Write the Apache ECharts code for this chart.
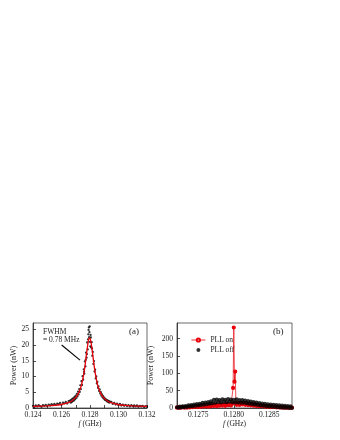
<!DOCTYPE html>
<html>
<head>
<meta charset="utf-8">
<script src="https://cdn.jsdelivr.net/npm/echarts@6/dist/echarts.min.js"></script>
<style>
  html, body { margin: 0; padding: 0; background: #fff; }
  #chart { width: 340px; height: 440px; }
</style>
</head>
<body>
<div id="chart"></div>
<script>
// panel (a): measured spectrum (black dots) and Lorentzian fit (red line)
var freqA = [
  0.1240, 0.1241, 0.1242, 0.1243, 0.1244, 0.1245, 0.1246, 0.1247, 0.1248, 0.1249,
  0.1250, 0.1251, 0.1252, 0.1253, 0.1254, 0.1255, 0.1256, 0.1257, 0.1258, 0.1259,
  0.1260, 0.1261, 0.1262, 0.1263, 0.1264, 0.1265,
  0.12660, 0.12664, 0.12668, 0.12672, 0.12676, 0.12680, 0.12684, 0.12688, 0.12692, 0.12696,
  0.12700, 0.12704, 0.12708, 0.12712, 0.12716, 0.12720, 0.12724, 0.12728, 0.12732, 0.12736,
  0.12740, 0.12744, 0.12748, 0.12752, 0.12756, 0.12760, 0.12764, 0.12768, 0.12772, 0.12776,
  0.12780, 0.12784, 0.12788, 0.12792, 0.12796, 0.12800, 0.12804, 0.12808, 0.12812, 0.12816,
  0.12820, 0.12824, 0.12828, 0.12832, 0.12836, 0.12840, 0.12844, 0.12848, 0.12852, 0.12856,
  0.12860, 0.12864, 0.12868, 0.12872, 0.12876, 0.12880, 0.12884, 0.12888, 0.12892, 0.12896,
  0.12900, 0.12904, 0.12908, 0.12912, 0.12916, 0.12920, 0.12924, 0.12928, 0.12932, 0.12936,
  0.12940,
  0.1295, 0.1296, 0.1297, 0.1298, 0.1299, 0.1300, 0.1301, 0.1302, 0.1303, 0.1304,
  0.1305, 0.1306, 0.1307, 0.1308, 0.1309, 0.1310, 0.1311, 0.1312, 0.1313, 0.1314,
  0.1315, 0.1316, 0.1317, 0.1318, 0.1319, 0.1320,
  // second sweep, a few points around the peak
  0.12758, 0.12770, 0.12778, 0.12786, 0.12790, 0.12794, 0.12798, 0.12802, 0.12806, 0.12814
];
var powerA = [
  0.7, 0.4, 0.8, 0.5, 0.9, 0.6, 0.4, 0.9, 0.7, 1.0,
  0.6, 1.1, 0.8, 1.2, 0.9, 1.3, 1.0, 1.4, 1.2, 1.6,
  1.0, 1.7, 1.5, 1.9, 1.4, 2.2,
  2.3, 1.7, 2.6, 1.9, 2.9, 2.2, 3.1, 2.4, 3.5, 2.8,
  3.9, 3.2, 4.5, 3.7, 5.2, 4.3, 6.0, 5.1, 7.2, 6.0,
  8.5, 7.3, 10.1, 9.0, 12.3, 10.9, 14.8, 13.2, 17.6, 16.0,
  20.8, 18.6, 23.4, 25.6, 24.1, 21.0, 23.2, 19.3, 20.9, 16.6,
  17.8, 14.0, 14.9, 11.6, 12.2, 9.4, 10.0, 7.8, 8.3, 6.4,
  6.9, 5.4, 5.9, 4.6, 5.0, 3.9, 4.3, 3.4, 3.8, 3.0,
  3.3, 2.6, 2.9, 2.4, 2.6, 2.1, 2.4, 1.9, 2.2, 1.7,
  2.0,
  1.9, 1.3, 1.6, 1.1, 1.4, 0.9, 1.3, 0.8, 1.1, 0.7,
  1.0, 0.6, 0.9, 0.5, 0.9, 0.6, 0.8, 0.5, 0.8, 0.4,
  0.7, 0.5, 0.7, 0.3, 0.6, 0.4,
  11.5, 15.3, 17.1, 21.8, 24.8, 22.5, 25.9, 19.6, 22.4, 18.9
];
var fitFreqA = [
  0.1240, 0.12497, 0.12547, 0.12597, 0.12647, 0.12672, 0.12697, 0.12717, 0.12737, 0.12747,
  0.12757, 0.12767, 0.12777, 0.12787, 0.12792, 0.12797, 0.12802, 0.12807, 0.12817, 0.12827,
  0.12837, 0.12847, 0.12857, 0.12877, 0.12897, 0.12922, 0.12947, 0.12997, 0.13047, 0.13097,
  0.1320
];
var fitPowerA = [
  0.51, 0.67, 0.82, 1.11, 1.69, 2.25, 3.2, 4.5, 6.8, 8.6,
  11.0, 14.1, 17.7, 20.9, 21.95, 22.3, 21.95, 20.9, 17.7, 14.1,
  11.0, 8.6, 6.8, 4.5, 3.2, 2.25, 1.69, 1.11, 0.82, 0.67,
  0.51
];
var xTicksA = [0.124, 0.126, 0.128, 0.130, 0.132];
var xMinorA = [0.125, 0.127, 0.129, 0.131];
var yTicksA = [0, 5, 10, 15, 20, 25];

// panel (b): PLL off (black) and PLL on (red)
var freqOff = [
  0.12720, 0.12722, 0.12724, 0.12726, 0.12728, 0.12730, 0.12732, 0.12734, 0.12736, 0.12738,
  0.12740, 0.12742, 0.12744, 0.12746, 0.12748, 0.12750, 0.12752, 0.12754, 0.12756, 0.12758,
  0.12760, 0.12762, 0.12764, 0.12766, 0.12768, 0.12770, 0.12772, 0.12774, 0.12776, 0.12778,
  0.12780, 0.12782, 0.12784, 0.12786, 0.12788, 0.12790, 0.12792, 0.12794, 0.12796, 0.12798,
  0.12800, 0.12802, 0.12804, 0.12806, 0.12808, 0.12810, 0.12812, 0.12814, 0.12816, 0.12818,
  0.12820, 0.12822, 0.12824, 0.12826, 0.12828, 0.12830, 0.12832, 0.12834, 0.12836, 0.12838,
  0.12840, 0.12842, 0.12844, 0.12846, 0.12848, 0.12850, 0.12852, 0.12854, 0.12856, 0.12858,
  0.12860, 0.12862, 0.12864, 0.12866, 0.12868, 0.12870, 0.12872, 0.12874, 0.12876, 0.12878,
  0.12880, 0.12882
];
var powerOff = [
  2.5, 0.8, 4.4, 1.6, 5.1, 2.2, 6.0, 3.2, 7.8, 4.1,
  9.0, 5.2, 10.1, 6.3, 11.2, 7.4, 12.5, 8.6, 14.8, 9.7,
  16.0, 11.1, 17.6, 12.3, 19.2, 13.8, 23.5, 15.3, 24.4, 16.6,
  23.2, 15.8, 25.1, 17.4, 24.0, 16.7, 25.6, 17.9, 24.3, 16.5,
  23.8, 15.6, 24.9, 16.2, 22.7, 14.9, 23.3, 15.1, 21.4, 13.6,
  20.2, 12.3, 18.8, 11.1, 17.2, 9.9, 15.8, 8.6, 14.4, 7.5,
  13.1, 6.4, 12.0, 5.3, 10.9, 4.4, 10.0, 3.6, 9.1, 2.8,
  8.3, 2.1, 7.6, 1.5, 7.0, 1.0, 6.4, 0.5, 5.9, 0.3,
  5.4, 0.2
];
var freqOn = [
  0.12720, 0.12722, 0.12724, 0.12726, 0.12728, 0.12730, 0.12732, 0.12734, 0.12736, 0.12738,
  0.12740, 0.12742, 0.12744, 0.12746, 0.12748, 0.12750, 0.12752, 0.12754, 0.12756, 0.12758,
  0.12760, 0.12762, 0.12764, 0.12766, 0.12768, 0.12770, 0.12772, 0.12774, 0.12776, 0.12778,
  0.12780, 0.12782, 0.12784, 0.12786, 0.12788, 0.12790, 0.12792, 0.12794, 0.12796, 0.12798,
  0.12799, 0.12800, 0.12801, 0.12802, 0.12803, 0.12804, 0.12806, 0.12808, 0.12810, 0.12812,
  0.12814, 0.12816, 0.12818, 0.12820, 0.12822, 0.12824, 0.12826, 0.12828, 0.12830, 0.12832,
  0.12834, 0.12836, 0.12838, 0.12840, 0.12842, 0.12844, 0.12846, 0.12848, 0.12850, 0.12852,
  0.12854, 0.12856, 0.12858, 0.12860, 0.12862, 0.12864, 0.12866, 0.12868, 0.12870, 0.12872,
  0.12874, 0.12876, 0.12878, 0.12880, 0.12882
];
var powerOn = [
  0.8, 2.1, 0.5, 1.6, 3.0, 1.2, 2.4, 0.9, 3.3, 1.8,
  4.2, 2.5, 3.6, 5.4, 2.9, 4.8, 3.1, 6.0, 4.0, 7.2,
  4.6, 6.3, 3.8, 7.9, 5.2, 8.6, 6.1, 9.3, 5.5, 8.2,
  6.7, 10.1, 7.0, 9.4, 6.2, 11.3, 8.1, 10.6, 7.4, 12.0,
  58.0, 232.0, 76.0, 105.0, 14.0, 9.2, 13.5, 8.8, 15.2, 10.4,
  14.1, 9.1, 13.7, 8.3, 12.6, 7.6, 11.9, 6.8, 10.2, 6.1,
  9.4, 5.3, 8.1, 4.7, 7.2, 4.0, 6.3, 3.4, 5.2, 2.8,
  4.6, 2.3, 3.9, 1.9, 3.3, 1.5, 2.8, 1.2, 2.4, 0.9,
  2.0, 0.7, 1.7, 0.6, 1.4
];
var xTicksB = [0.1275, 0.1280, 0.1285];
var yTicksB = [0, 50, 100, 150, 200];

function pairs(xs, ys) {
  return xs.map(function (x, i) { return [x, ys[i]]; });
}

var serif = 'Liberation Serif';
var ink = '#222';
var red = '#e8000b';

function xAxisCfg(gridIndex, min, max, ticks, digits, minor) {
  return {
    type: 'value', gridIndex: gridIndex, min: min, max: max,
    name: '{i|f} (GHz)', nameLocation: 'middle', nameGap: 12,
    nameTextStyle: {
      fontFamily: serif, fontSize: 7.5, color: ink,
      rich: { i: { fontFamily: serif, fontStyle: 'italic', fontSize: 7.5, color: ink } }
    },
    axisLine: { lineStyle: { color: ink, width: 0.8 } },
    axisTick: { inside: true, length: 3, lineStyle: { color: ink, width: 0.8 },
      customValues: ticks.concat(minor || []) },
    axisLabel: { customValues: ticks, fontFamily: serif, fontSize: 7.5, color: ink, margin: 3,
      formatter: function (v) { return v.toFixed(digits); } },
    splitLine: { show: false }
  };
}

function yAxisCfg(gridIndex, max, ticks, gap) {
  return {
    type: 'value', gridIndex: gridIndex, min: 0, max: max,
    name: 'Power (nW)', nameLocation: 'middle', nameGap: gap, nameRotate: 90,
    nameTextStyle: { fontFamily: serif, fontSize: 8, color: ink },
    axisLine: { show: true, lineStyle: { color: ink, width: 0.8 } },
    axisTick: { show: true, inside: true, length: 3, lineStyle: { color: ink, width: 0.8 },
      customValues: ticks },
    axisLabel: { customValues: ticks, fontFamily: serif, fontSize: 7.5, color: ink, margin: 4 },
    splitLine: { show: false }
  };
}

var chart = echarts.init(document.getElementById('chart'));
var option = {
  animation: false,
  backgroundColor: '#fff',
  grid: [
    { left: 33, top: 323, width: 114, height: 85, show: true, borderColor: '#444', borderWidth: 0.8 },
    { left: 177, top: 323, width: 115, height: 85, show: true, borderColor: '#444', borderWidth: 0.8 }
  ],
  xAxis: [
    xAxisCfg(0, 0.124, 0.132, xTicksA, 3, xMinorA),
    xAxisCfg(1, 0.1272, 0.12882, xTicksB, 4)
  ],
  yAxis: [
    yAxisCfg(0, 27, yTicksA, 15),
    yAxisCfg(1, 245, yTicksB, 22)
  ],
  legend: {
    orient: 'vertical', left: 186, top: 331, itemGap: 2,
    itemWidth: 14, itemHeight: 4,
    lineStyle: { width: 0.8 },
    itemStyle: { borderWidth: 0.7 },
    textStyle: { fontFamily: serif, fontSize: 7.5, color: ink },
    data: ['PLL on', { name: 'PLL off', itemStyle: { color: '#000' } }]
  },
  graphic: [
    { type: 'text', left: 43, top: 328, style: { text: 'FWHM', fontFamily: serif, fontSize: 7.5, fill: ink } },
    { type: 'text', left: 43, top: 336, style: { text: '= 0.78 MHz', fontFamily: serif, fontSize: 7.5, fill: ink } },
    { type: 'text', left: 129, top: 327, style: { text: '(a)', fontFamily: serif, fontSize: 9, fill: ink } },
    { type: 'text', left: 273, top: 327, style: { text: '(b)', fontFamily: serif, fontSize: 9, fill: ink } }
  ],
  series: [
    {
      name: 'data a', type: 'scatter', xAxisIndex: 0, yAxisIndex: 0,
      symbol: 'circle', symbolSize: 2.3, z: 2,
      itemStyle: { color: '#000' },
      data: pairs(freqA, powerA)
    },
    {
      name: 'fit a', type: 'line', xAxisIndex: 0, yAxisIndex: 0,
      showSymbol: false, smooth: 0.3, z: 3,
      lineStyle: { color: red, width: 1.3 },
      data: pairs(fitFreqA, fitPowerA),
      markLine: {
        silent: true, animation: false,
        symbol: ['none', 'arrow'], symbolSize: [0, 5],
        label: { show: false },
        lineStyle: { color: '#000', width: 1.1, type: 'solid' },
        data: [[{ coord: [0.12601, 20.0] }, { coord: [0.12730, 15.2] }]]
      }
    },
    {
      name: 'PLL on', type: 'line', xAxisIndex: 1, yAxisIndex: 1,
      symbol: 'emptyCircle', symbolSize: 2.2, showAllSymbol: true, z: 2,
      itemStyle: { color: red, borderWidth: 0.6 },
      lineStyle: { color: red, width: 0.7 },
      data: pairs(freqOn, powerOn)
    },
    {
      name: 'PLL off', type: 'scatter', xAxisIndex: 1, yAxisIndex: 1,
      symbol: 'circle', symbolSize: 4, z: 4,
      itemStyle: { color: '#000' },
      data: pairs(freqOff, powerOff)
    }
  ]
};
chart.setOption(option);
</script>
</body>
</html>
